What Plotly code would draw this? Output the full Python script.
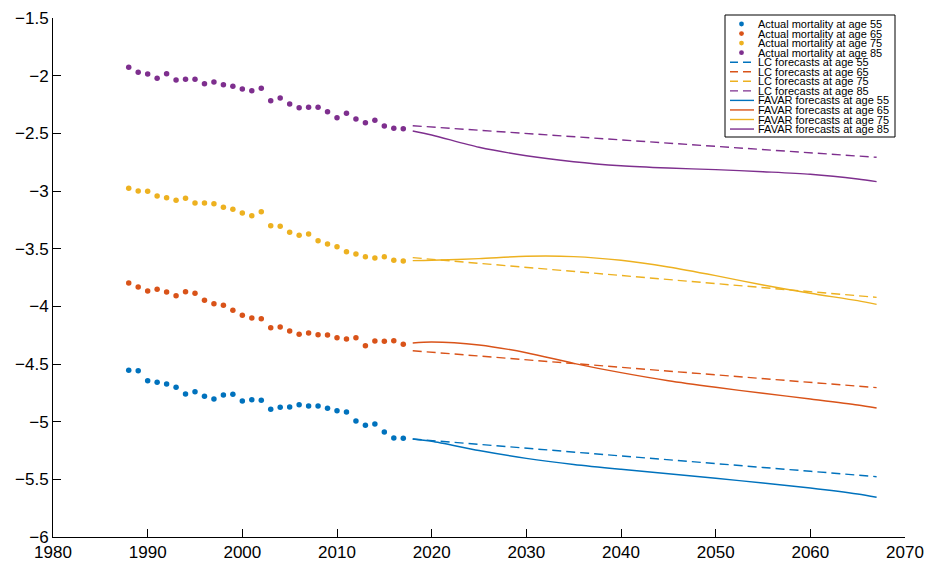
import plotly.graph_objects as go

# ---- observed log mortality, 1988-2017 ----
years_obs = list(range(1988, 2018))

actual_55 = [-4.555, -4.558, -4.645, -4.659, -4.673, -4.702, -4.760, -4.740, -4.780, -4.804,
             -4.769, -4.763, -4.821, -4.810, -4.815, -4.893, -4.876, -4.873, -4.853, -4.864,
             -4.864, -4.884, -4.905, -4.916, -4.994, -5.032, -5.020, -5.090, -5.142, -5.144]
actual_65 = [-3.798, -3.833, -3.867, -3.852, -3.876, -3.908, -3.873, -3.887, -3.948, -3.977,
             -3.991, -4.034, -4.078, -4.101, -4.107, -4.185, -4.179, -4.214, -4.243, -4.231,
             -4.246, -4.249, -4.272, -4.283, -4.272, -4.341, -4.301, -4.303, -4.298, -4.329]
actual_75 = [-2.977, -3.000, -3.003, -3.043, -3.058, -3.081, -3.063, -3.104, -3.104, -3.110,
             -3.141, -3.159, -3.191, -3.214, -3.180, -3.301, -3.306, -3.358, -3.384, -3.373,
             -3.431, -3.460, -3.483, -3.526, -3.546, -3.570, -3.581, -3.570, -3.601, -3.607]
actual_85 = [-1.927, -1.971, -1.986, -2.023, -1.983, -2.038, -2.032, -2.032, -2.070, -2.055,
             -2.078, -2.092, -2.116, -2.130, -2.110, -2.217, -2.194, -2.246, -2.278, -2.274,
             -2.274, -2.312, -2.364, -2.326, -2.376, -2.408, -2.387, -2.436, -2.456, -2.460]

# ---- forecasts, 2018-2067 ----
years_fc = [2018, 2020, 2025, 2030, 2035, 2040, 2045, 2050, 2055, 2060, 2065, 2067]

lc_55 = [-5.150, -5.163, -5.197, -5.230, -5.263, -5.297, -5.330, -5.363, -5.397, -5.430, -5.463, -5.477]
lc_65 = [-4.385, -4.398, -4.431, -4.463, -4.496, -4.529, -4.561, -4.594, -4.627, -4.659, -4.692, -4.705]
lc_75 = [-3.578, -3.592, -3.627, -3.662, -3.697, -3.732, -3.768, -3.803, -3.838, -3.873, -3.908, -3.922]
lc_85 = [-2.434, -2.445, -2.473, -2.501, -2.529, -2.557, -2.585, -2.613, -2.641, -2.668, -2.697, -2.708]

favar_55 = [-5.150, -5.170, -5.250, -5.318, -5.371, -5.413, -5.451, -5.491, -5.532, -5.575, -5.627, -5.655]
favar_65 = [-4.318, -4.309, -4.335, -4.402, -4.494, -4.575, -4.645, -4.702, -4.754, -4.804, -4.856, -4.882]
favar_75 = [-3.604, -3.601, -3.586, -3.566, -3.569, -3.601, -3.659, -3.734, -3.815, -3.887, -3.951, -3.983]
favar_85 = [-2.480, -2.514, -2.621, -2.694, -2.746, -2.781, -2.801, -2.815, -2.833, -2.855, -2.896, -2.919]

ages = ["55", "65", "75", "85"]
colors = ["#0072BD", "#D95319", "#EDB120", "#7E2F8E"]

actual = [actual_55, actual_65, actual_75, actual_85]
lc = [lc_55, lc_65, lc_75, lc_85]
favar = [favar_55, favar_65, favar_75, favar_85]

x_ticks = [1980, 1990, 2000, 2010, 2020, 2030, 2040, 2050, 2060, 2070]
y_ticks = [-6, -5.5, -5, -4.5, -4, -3.5, -3, -2.5, -2, -1.5]

# ---- figure geometry (pixels) ----
W, H = 929, 561
ML, MR, MT, MB = 53, 24, 18, 24
PW, PH = W - ML - MR, H - MT - MB


def px(xp):
    return (xp - ML) / PW


def py(yp):
    return 1 - (yp - MT) / PH


fig = go.Figure()

for a, c, vals in zip(ages, colors, actual):
    fig.add_trace(go.Scatter(x=years_obs, y=vals, mode="markers",
                             marker=dict(color=c, size=5.5),
                             name=f"Actual mortality at age {a}", showlegend=False))
for a, c, vals in zip(ages, colors, lc):
    fig.add_trace(go.Scatter(x=years_fc, y=vals, mode="lines",
                             line=dict(color=c, width=1.4, dash="9px,5px"),
                             name=f"LC forecasts at age {a}", showlegend=False))
for a, c, vals in zip(ages, colors, favar):
    fig.add_trace(go.Scatter(x=years_fc, y=vals, mode="lines",
                             line=dict(color=c, width=1.4, shape="spline", smoothing=0.8),
                             name=f"FAVAR forecasts at age {a}", showlegend=False))

# ---- hand-built compact legend box ----
shapes = []
annotations = []
box_l, box_r, box_t, box_b = 725, 895, 15, 137
shapes.append(dict(type="rect", xref="paper", yref="paper",
                   x0=px(box_l), x1=px(box_r), y0=py(box_b), y1=py(box_t),
                   line=dict(color="black", width=1), fillcolor="white", layer="above"))

entries = []
for a, c in zip(ages, colors):
    entries.append(("marker", c, f"Actual mortality at age {a}"))
for a, c in zip(ages, colors):
    entries.append(("dash", c, f"LC forecasts at age {a}"))
for a, c in zip(ages, colors):
    entries.append(("solid", c, f"FAVAR forecasts at age {a}"))

row0, step = 24.0, 9.55
for i, (kind, c, label) in enumerate(entries):
    yc = row0 + i * step
    if kind == "marker":
        r = 2.4
        shapes.append(dict(type="circle", xref="paper", yref="paper",
                           x0=px(741.5 - r), x1=px(741.5 + r),
                           y0=py(yc + r), y1=py(yc - r),
                           fillcolor=c, line=dict(color=c, width=0), layer="above"))
    else:
        shapes.append(dict(type="line", xref="paper", yref="paper",
                           x0=px(730), x1=px(754), y0=py(yc), y1=py(yc),
                           line=dict(color=c, width=1.4,
                                     dash="8px,5px" if kind == "dash" else "solid"),
                           layer="above"))
    annotations.append(dict(text=label, xref="paper", yref="paper",
                            x=px(757), y=py(yc), xanchor="left", yanchor="middle",
                            showarrow=False, borderpad=0,
                            font=dict(family="Liberation Sans, Arial, sans-serif",
                                      size=11, color="black")))

fig.update_layout(
    template="none",
    width=W, height=H,
    margin=dict(l=ML, r=MR, t=MT, b=MB, autoexpand=False),
    paper_bgcolor="white", plot_bgcolor="white",
    font=dict(family="Liberation Sans, Arial, sans-serif", size=17, color="black"),
    showlegend=False,
    shapes=shapes,
    annotations=annotations,
)

fig.update_xaxes(range=[1980, 2070], tickvals=x_ticks, ticktext=[str(v) for v in x_ticks],
                 automargin=False,
                 showgrid=False, zeroline=False, showline=True, linecolor="black",
                 linewidth=1, ticks="inside", ticklen=8, tickcolor="black", tickwidth=1,
                 ticklabelstandoff=0)
fig.update_yaxes(range=[-6, -1.5], tickvals=y_ticks,
                 ticktext=[f"\u2212{abs(v):g}" for v in y_ticks],
                 automargin=False,
                 showgrid=False, zeroline=False, showline=True, linecolor="black",
                 linewidth=1, ticks="inside", ticklen=8, tickcolor="black", tickwidth=1,
                 ticklabelstandoff=0)

fig.write_html("out.html")
